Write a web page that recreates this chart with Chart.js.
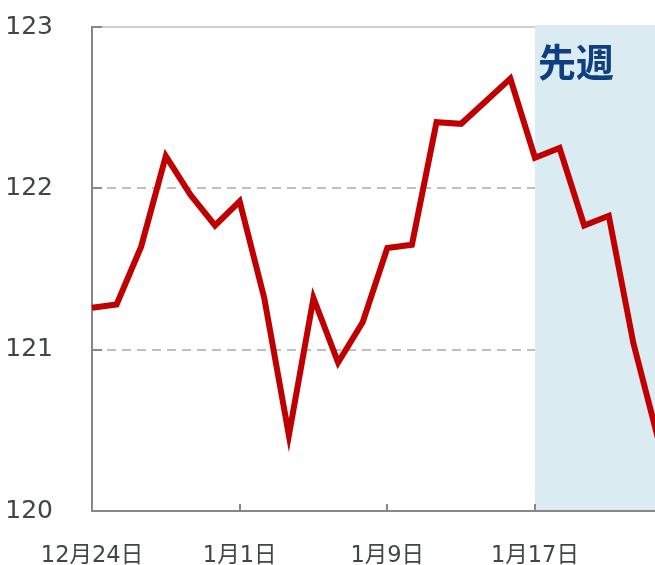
<!DOCTYPE html>
<html><head><meta charset="utf-8">
<script src="https://cdn.jsdelivr.net/npm/chart.js@4/dist/chart.umd.min.js"></script>
<style>
html,body{margin:0;padding:0;overflow:hidden;background:#fff;width:655px;height:565px}
#wrap{position:relative;width:660px;height:565px}
</style></head>
<body><div id="wrap"><canvas id="c" width="660" height="565"></canvas></div>
<script>
// series values (one per trading day)
const values = [121.26, 121.28, 121.64, 122.20, 121.96, 121.77, 121.92, 121.32, 120.47, 121.32,
                120.92, 121.17, 121.63, 121.65, 122.41, 122.40, 122.54, 122.68, 122.19, 122.25,
                121.77, 121.83, 121.04, 120.45];
// x tick labels and the data index they sit on
const xTickLabels = ['12月24日', '1月1日', '1月9日', '1月17日'];
const xTickIndex = [0, 6, 12, 18];
// y ticks
const yTicks = [120, 121, 122, 123];
const yGridDashed = [121, 122];
// shaded "last week" region
const shadeStartIndex = 18;
const shadeLabel = '先週';

const categories = values.map((_, i) => i);

const FONT = '"DejaVu Sans", "Noto Sans CJK JP", sans-serif';

const decor = {
  id: 'decor',
  beforeDatasetsDraw(chart) {
    const {ctx, chartArea: a, scales: {x, y}} = chart;
    ctx.save();
    // grid lines
    ctx.lineWidth = 2;
    ctx.strokeStyle = '#bfbfbf';
    ctx.setLineDash([9, 6]);
    yGridDashed.forEach(v => {
      const py = Math.round(y.getPixelForValue(v));
      ctx.beginPath(); ctx.moveTo(a.left, py); ctx.lineTo(a.right, py); ctx.stroke();
    });
    ctx.setLineDash([]);
    ctx.strokeStyle = '#cfcfcf';
    const pt = Math.round(y.getPixelForValue(yTicks[yTicks.length - 1]));
    ctx.beginPath(); ctx.moveTo(a.left, pt); ctx.lineTo(a.right, pt); ctx.stroke();
    // shading
    const sx = x.getPixelForValue(shadeStartIndex);
    ctx.fillStyle = '#daecf2';
    ctx.fillRect(sx, a.top - 2, a.right - sx + 10, a.bottom - a.top + 1);
    // inner tick marks
    ctx.strokeStyle = '#888888';
    ctx.lineWidth = 2;
    xTickIndex.forEach(i => {
      const px = Math.round(x.getPixelForValue(i));
      ctx.beginPath(); ctx.moveTo(px, a.bottom); ctx.lineTo(px, a.bottom - 7); ctx.stroke();
    });
    yTicks.slice(1).forEach(v => {
      const py = Math.round(y.getPixelForValue(v));
      ctx.beginPath(); ctx.moveTo(a.left, py); ctx.lineTo(a.left + 10, py); ctx.stroke();
    });
    // label
    ctx.fillStyle = '#0f3f80';
    ctx.font = 'bold 38px "Noto Sans CJK JP", sans-serif';
    ctx.textAlign = 'left';
    ctx.textBaseline = 'middle';
    ctx.fillText(shadeLabel, sx + 3, a.top + 35);
    ctx.restore();
  }
};

const noPad = (s) => { s.paddingTop = 0; s.paddingBottom = 0; s.paddingLeft = 0; s.paddingRight = 0; };

new Chart(document.getElementById('c'), {
  type: 'line',
  data: {
    labels: categories,
    datasets: [{
      data: values,
      borderColor: '#c00000',
      borderWidth: 6,
      borderJoinStyle: 'miter',
      borderCapStyle: 'butt',
      pointRadius: 0,
      tension: 0,
      fill: false
    }]
  },
  options: {
    responsive: false,
    animation: false,
    devicePixelRatio: 1,
    layout: {padding: {top: 27, right: 2, bottom: 0, left: 0}},
    plugins: {legend: {display: false}, tooltip: {enabled: false}},
    scales: {
      x: {
        type: 'category',
        offset: false,
        grid: {display: false, drawTicks: false},
        border: {display: true, color: '#888888', width: 2},
        ticks: {
          autoSkip: false, maxRotation: 0, minRotation: 0, padding: 32,
          color: '#404545',
          font: {family: FONT, size: 22.5},
          callback: (v) => { const k = xTickIndex.indexOf(v); return k >= 0 ? xTickLabels[k] : ''; }
        },
        afterFit: (s) => { s.height = 54; noPad(s); }
      },
      y: {
        min: 120, max: 123,
        grid: {display: false, drawTicks: false},
        border: {display: true, color: '#888888', width: 2},
        ticks: {
          stepSize: 1, padding: 39, color: '#404545',
          font: {family: FONT, size: 25}
        },
        afterFit: (s) => { s.width = 92; noPad(s); }
      }
    }
  },
  plugins: [decor]
});
</script>
</body></html>
